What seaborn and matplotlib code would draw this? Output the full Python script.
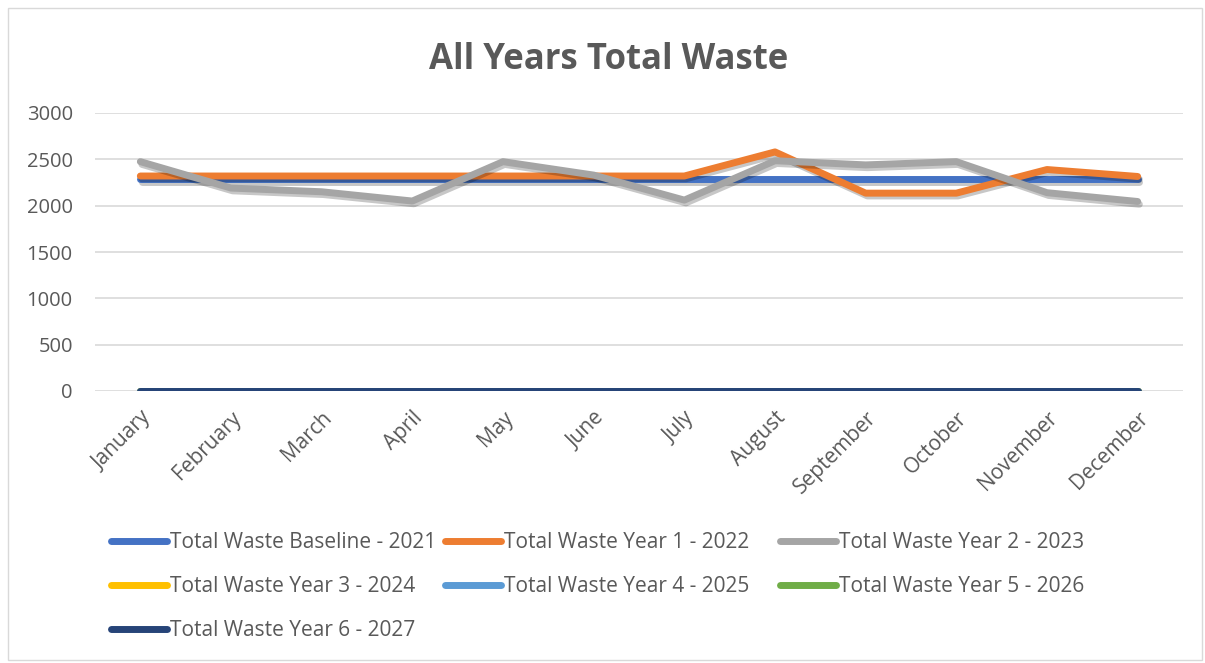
import matplotlib
matplotlib.use("Agg")
import matplotlib.pyplot as plt
import matplotlib.patheffects as pe
from matplotlib.lines import Line2D
from matplotlib.patches import Rectangle
import seaborn as sns
import pandas as pd

months = ["January", "February", "March", "April", "May", "June", "July",
          "August", "September", "October", "November", "December"]
series_names = ["Total Waste Baseline - 2021", "Total Waste Year 1 - 2022",
                "Total Waste Year 2 - 2023", "Total Waste Year 3 - 2024",
                "Total Waste Year 4 - 2025", "Total Waste Year 5 - 2026",
                "Total Waste Year 6 - 2027"]
baseline_2021 = [2290, 2290, 2290, 2290, 2290, 2290, 2290, 2290, 2290, 2290, 2290, 2290]
year1_2022 = [2320, 2320, 2320, 2320, 2320, 2320, 2320, 2580, 2135, 2135, 2390, 2315]
year2_2023 = [2475, 2190, 2150, 2050, 2475, 2330, 2060, 2485, 2440, 2475, 2140, 2045]
year3_2024 = [0] * 12
year4_2025 = [0] * 12
year5_2026 = [0] * 12
year6_2027 = [0] * 12
colors = ["#4472C4", "#ED7D31", "#A5A5A5", "#FFC000", "#5B9BD5", "#70AD47", "#264478"]

all_vals = [baseline_2021, year1_2022, year2_2023, year3_2024, year4_2025, year5_2026, year6_2027]
rows = []
for name, vals in zip(series_names, all_vals):
    for i, (m, v) in enumerate(zip(months, vals)):
        rows.append({"Month": m, "idx": i, "Series": name, "Value": v})
df = pd.DataFrame(rows)

sns.set_theme(style="white")
plt.rcParams["font.family"] = ["Open Sans", "DejaVu Sans"]

fig = plt.figure(figsize=(12.05, 6.63), dpi=100)
ax = fig.add_axes([95 / 1205, 1 - 391 / 663, (1183 - 95) / 1205, (391 - 113) / 663])

LW = 5.0
sns.lineplot(data=df, x="idx", y="Value", hue="Series", hue_order=series_names,
             palette=colors, linewidth=LW, ax=ax, legend=False, sort=False)
shadow = [pe.SimpleLineShadow(offset=(1.2, -2.0), alpha=0.22, shadow_color="black"), pe.Normal()]
for ln in ax.lines:
    ln.set_solid_capstyle("round")
    ln.set_solid_joinstyle("round")
    ln.set_path_effects(shadow)

ax.set_xlim(-0.5, 11.5)
ax.set_ylim(0, 3000)
ax.set_yticks([0, 500, 1000, 1500, 2000, 2500, 3000])
ax.set_xticks(range(12))
ax.set_xticklabels(months, rotation=45, ha="right", rotation_mode="anchor")
ax.tick_params(axis="both", colors="#595959", length=0)
ax.tick_params(axis="x", pad=12, labelsize=15)
ax.tick_params(axis="y", pad=16, labelsize=14.5)
ax.grid(axis="y", color="#D9D9D9", linewidth=1.2)
ax.set_axisbelow(True)
for s in ax.spines.values():
    s.set_visible(False)
ax.set_xlabel("")
ax.set_ylabel("")

fig.text(609 / 1205, 1 - 60 / 663, "All Years Total Waste", ha="center", va="center",
         fontsize=25, fontweight="bold", color="#595959")

handles = [Line2D([0], [0], color=c, linewidth=LW, solid_capstyle="round") for c in colors]
cols = [[0, 3, 6], [1, 4], [2, 5]]
xs = [111, 445, 780]
for col, x in zip(cols, xs):
    leg = fig.legend([handles[i] for i in col], [series_names[i] for i in col],
                     loc="upper left", bbox_to_anchor=(x / 1205, 1 - 532 / 663),
                     frameon=False, fontsize=15, handlelength=2.7, handletextpad=0.12,
                     labelspacing=1.1, borderpad=0, borderaxespad=0)
    for t in leg.get_texts():
        t.set_color("#595959")

fig.patches.append(Rectangle((8 / 1205, 3 / 663), 1194 / 1205, 652 / 663,
                             transform=fig.transFigure, fill=False,
                             edgecolor="#D9D9D9", linewidth=1))
fig.savefig("out.png", dpi=100)
